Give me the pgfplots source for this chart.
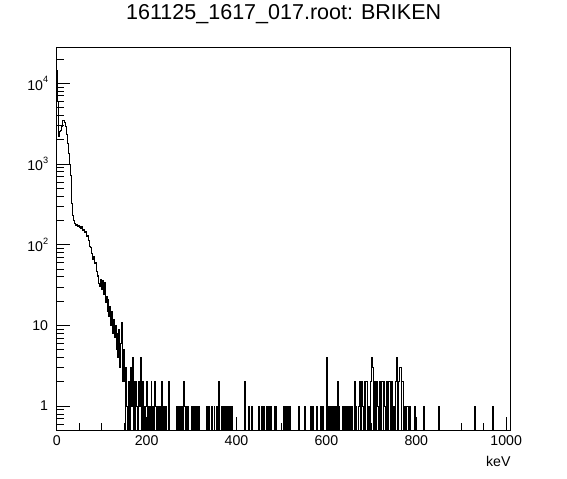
\documentclass[border=0pt]{standalone}
\usepackage{pgfplots}
\pgfplotsset{compat=1.18}
\usepackage{fontspec}
\setmainfont{Liberation Sans}
\newcommand{\tl}{\fontsize{14.2}{17}\selectfont}
\newcommand{\sexp}[1]{10\raisebox{7.4bp}{\fontsize{9.2}{10}\selectfont #1}}
\begin{document}
\begin{tikzpicture}
\useasboundingbox (0bp,0bp) rectangle (567bp,479bp);
\begin{axis}[
  at={(56.7bp,48.6bp)}, anchor=south west,
  scale only axis, width=454bp, height=383.1bp,
  xmin=0, xmax=1010,
  ymode=log, ymin=0.5, ymax=2.8e4,
  axis line style={black, line width=0.8bp},
  tick style={black, line width=0.8bp},
  major tick length=13bp, minor tick length=7bp,
  tick pos=left, tick align=inside,
  xtick={0,200,400,600,800,1000},
  xticklabels={0,200,400,600,800,1000},
  minor xtick={50,100,150,250,300,350,450,500,550,650,700,750,850,900,950},
  ytick={1,10,100,1000,10000},
  yticklabels={1,10,\sexp{2},\sexp{3},\sexp{4}},
  minor ytick={0.6,0.7,0.8,0.9,2,3,4,5,6,7,8,9,20,30,40,50,60,70,80,90,200,300,400,500,600,700,800,900,2000,3000,4000,5000,6000,7000,8000,9000,20000},
  xticklabel style={font=\tl, inner sep=0pt, anchor=north, yshift=-4.6bp},
  yticklabel style={font=\tl, inner sep=0pt, anchor=east, xshift=-8.4bp},
  title={161125\_1617\_017.root: BRIKEN},
  title style={at={(0.5,1)}, anchor=base, yshift=22.3bp, inner sep=0pt, font=\fontsize{21.6}{24}\selectfont},
  xlabel={keV},
  xlabel style={at={(1,0)}, anchor=base east, yshift=-36.6bp, inner sep=0pt, font=\tl},
]
\addplot[const plot, black, line width=1bp, mark=none] coordinates {
(0,14600) (2,6000) (4,2200) (6,2500) (8,2600) (10,2900) (12,3300) (14,3500) (16,3450) (18,3300)
(20,2900) (22,2300) (24,1800) (26,1350) (28,1000) (30,720) (32,480) (34,320) (36,230) (38,200)
(40,185) (42,172) (44,176) (46,168) (48,174) (50,165) (52,170) (54,158) (56,166) (58,152)
(60,155) (62,140) (64,144) (66,128) (68,130) (70,112) (72,108) (74,95) (76,92) (78,78)
(80,66) (82,72) (84,58) (86,60) (88,46) (90,40) (92,42) (94,33) (96,30) (98,37)
(100,28) (102,36) (104,24) (106,34) (108,19) (110,23) (112,15) (114,21) (116,13) (118,17)
(120,10) (122,15) (124,8) (126,12) (128,7) (130,10) (132,5) (134,8) (136,4) (138,9)
(140,3) (142,6) (144,11) (146,2) (148,5)
(150,2) (152,0.1) (154,3) (156,1) (158,0.1) (160,2) (162,0.1) (164,3) (166,1) (168,4)
(170,0.1) (172,2) (174,0.1) (176,2) (178,1) (180,0.1) (182,2) (184,1) (186,4) (188,0.1)
(190,2) (192,0.1) (194,1) (196,0.1) (198,1) (200,2) (202,0.1) (204,1) (206,0.1) (208,1)
(210,2) (212,0.1) (214,1) (216,0.1) (218,2) (220,1) (222,0.1) (224,1) (226,0.1) (228,1)
(230,0.1) (234,2) (236,0.1) (238,1) (240,0.1) (242,1) (244,0.1) (248,2) (250,1) (252,0.1)
(266,1) (268,0.1) (270,1) (272,0.1) (274,1) (276,0.1) (278,1) (280,0.1) (282,2) (284,1)
(286,0.1) (288,1) (290,0.1) (292,1) (294,0.1) (300,1) (302,0.1) (304,1) (306,0.1) (308,1)
(310,0.1) (312,1) (314,0.1) (316,1) (318,0.1) (334,1) (336,0.1) (338,1) (340,0.1) (344,1) (346,0.1)
(350,1) (352,0.1) (356,1) (358,0.1) (360,2) (362,0.1) (366,1) (368,0.1) (370,1) (372,0.1)
(374,1) (376,0.1) (378,1) (380,0.1) (382,1) (384,0.1) (386,1) (388,0.1) (390,1) (392,0.1)
(418,2) (420,0.1) (426,1) (428,0.1) (434,1) (436,0.1) (450,1) (452,0.1) (456,1) (458,0.1)
(460,1) (462,0.1) (466,1) (468,0.1) (472,1) (474,0.1) (476,1) (478,0.1) (484,1) (486,0.1)
(488,1) (490,0.1) (504,1) (506,0.1) (510,1) (512,0.1) (514,1) (516,0.1) (518,1) (520,0.1)
(538,1) (540,0.1) (552,1) (554,0.1) (564,1) (566,0.1) (570,1) (572,0.1) (578,1) (580,0.1)
(586,1) (588,0.1) (592,1) (594,0.1) (600,4) (602,0.1) (604,1) (606,0.1) (608,1) (610,0.1)
(612,1) (614,0.1) (616,1) (618,0.1) (620,1) (622,0.1) (624,2) (626,0.1) (628,1) (630,0.1)
(636,1) (638,0.1) (640,1) (642,0.1) (644,1) (646,0.1) (648,1) (650,0.1) (652,1) (654,0.1)
(656,1) (658,0.1) (662,2) (664,0.1) (666,1) (668,0.1)
(672,1) (674,2) (676,0.1) (678,2) (680,1) (682,0.1) (684,2) (686,0.1) (688,2) (690,2)
(692,0.1) (694,1) (696,0.1) (698,2) (700,4) (702,3) (704,0.1) (706,2) (708,2) (710,0.1)
(712,2) (714,1) (716,0.1) (718,2) (720,0.1) (722,2) (724,2) (726,0.1) (728,2) (730,1)
(732,0.1) (734,2) (736,0.1) (738,2) (740,2) (742,0.1) (744,2) (746,1) (748,0.1) (750,1)
(752,0.1) (754,2) (756,4) (758,0.1) (760,2) (762,3) (764,3) (766,0.1) (768,2) (770,2)
(772,0.1) (774,1) (776,0.1) (778,1) (780,1) (782,0.1) (784,1) (786,0.1)
(796,1) (798,0.1) (816,1) (818,0.1) (850,1) (852,0.1) (930,1) (932,0.1) (970,1)
(972,0.1) (1010,0.1)
};
\end{axis}
\end{tikzpicture}
\end{document}
